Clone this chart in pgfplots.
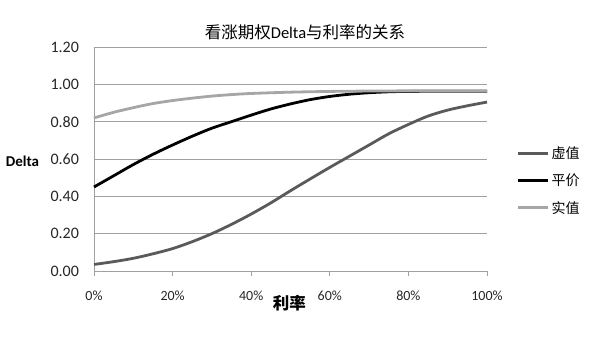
\documentclass[border=0pt]{standalone}
\usepackage{pgfplots}
\pgfplotsset{compat=1.18}
\usepackage{fontspec}
\setmainfont{Carlito}
\newfontfamily\cjk{Noto Sans CJK SC}
\definecolor{otm}{HTML}{5A5A5A}
\definecolor{itm}{HTML}{A6A6A6}
\definecolor{gridc}{HTML}{A0A0A0}
\begin{document}
\begin{tikzpicture}[x=1pt,y=1pt]
\useasboundingbox (0,0) rectangle (614,342);
\begin{axis}[
  at={(94pt,71pt)}, anchor=south west,
  width=393pt, height=224pt, scale only axis,
  xmin=0, xmax=100, ymin=0, ymax=1.2,
  xtick={0,20,40,60,80,100},
  xticklabels={0\%,20\%,40\%,60\%,80\%,100\%},
  ytick={0,0.2,0.4,0.6,0.8,1.0,1.2},
  yticklabel style={/pgf/number format/fixed,/pgf/number format/fixed zerofill,/pgf/number format/precision=2,/pgf/number format/assume math mode=true},
  ymajorgrids, grid style={gridc, line width=0.8pt},
  axis x line*=bottom, axis y line*=left,
  axis line style={gridc, line width=0.8pt},
  x axis line style={-}, y axis line style={-},
  xtick style={gridc, line width=0.8pt},
  major tick length=5pt,
  xtick align=outside,
  ytick style={draw=none},
  tick label style={text=black!85},
  xticklabel style={font=\fontsize{14}{16}\selectfont, yshift=-11pt},
  yticklabel style={font=\fontsize{16}{18}\selectfont, xshift=-11.5pt},
  title={\cjk 看涨期权\normalfont Delta\cjk 与利率的关系},
  title style={font=\fontsize{16.5}{19}\selectfont, at={(axis description cs:0.537,1.04)}, anchor=center},
  xlabel={\cjk\bfseries 利率},
  xlabel style={font=\fontsize{16.5}{18}\selectfont, at={(axis description cs:0.497,-0.143)}, anchor=center},
  ylabel={\bfseries Delta},
  ylabel style={font=\fontsize{15}{17}\selectfont, rotate=-90, at={(axis description cs:-0.182,0.49)}, anchor=center},
  legend style={draw=none, fill=none, at={(axis description cs:1.0756,0.565)}, anchor=north west,
     font=\cjk\fontsize{14}{16}\selectfont, row sep=10pt, inner sep=0pt,
     /tikz/every even column/.append style={column sep=0pt}},
  legend cell align=left,
  legend image code/.code={\draw[#1] (0pt,0pt) -- (30pt,0pt);},
  every axis plot/.append style={line width=2.8pt, smooth},
  clip=false,
]
\addplot[otm] coordinates {
(0,0.035) (5,0.05) (10,0.068) (15,0.092) (20,0.12) (25,0.157) (30,0.20) (35,0.25) (40,0.305)
(45,0.365) (50,0.43) (55,0.493) (60,0.555) (65,0.615) (70,0.675) (75,0.735) (80,0.785)
(85,0.83) (90,0.862) (95,0.885) (100,0.905)};
\addlegendentry{虚值}
\addplot[black] coordinates {
(0,0.45) (5,0.51) (10,0.57) (15,0.625) (20,0.675) (25,0.722) (30,0.765) (35,0.80) (40,0.835)
(45,0.868) (50,0.895) (55,0.918) (60,0.935) (65,0.947) (70,0.955) (75,0.96) (80,0.962)
(90,0.963) (100,0.963)};
\addlegendentry{平价}
\addplot[itm] coordinates {
(0,0.82) (5,0.85) (10,0.875) (15,0.897) (20,0.913) (25,0.926) (30,0.937) (35,0.945) (40,0.951)
(50,0.958) (60,0.962) (70,0.964) (80,0.965) (90,0.965) (100,0.965)};
\addlegendentry{实值}
\end{axis}
\end{tikzpicture}
\end{document}
